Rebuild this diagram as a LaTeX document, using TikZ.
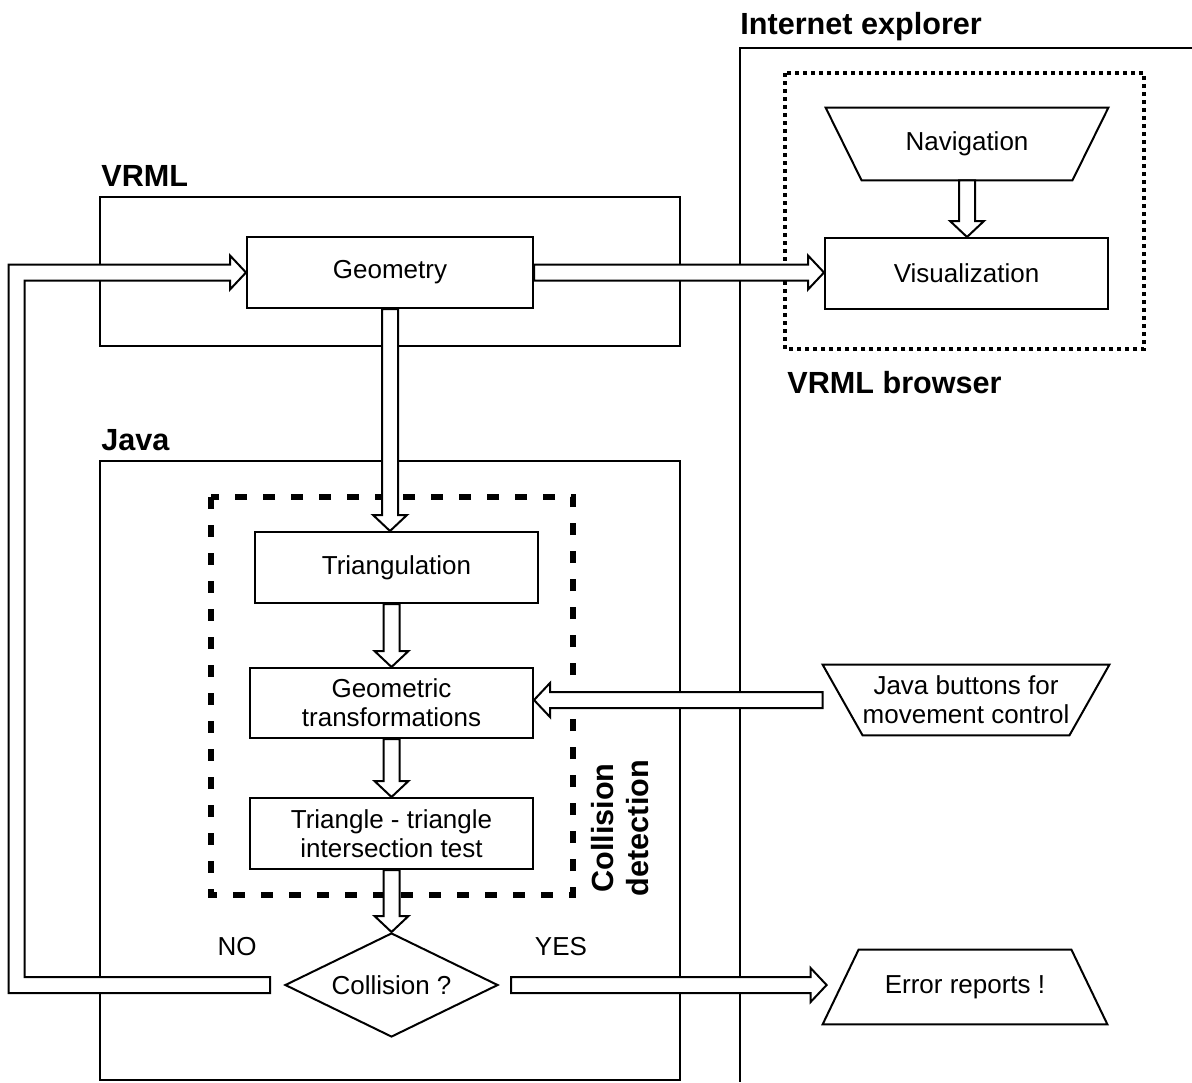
\documentclass[tikz,border=0pt]{standalone}
\usepackage{fontspec}
\setmainfont{Liberation Sans}
\usetikzlibrary{calc,shapes.geometric}

\tikzset{
  box/.style={draw, line width=1pt, inner sep=0pt, minimum width=141.5pt, minimum height=35.5pt},
  plain/.style={inner sep=0pt},
  hollow/.style={draw, fill=white, line width=1pt, line join=miter},
  title/.style={font=\fontsize{15.3}{17.5}\selectfont\bfseries, inner sep=0pt},
  frame/.style={line width=0.6pt},
}

% fat hollow arrow between two points
\newcommand{\fatarrow}[2]{%
  \coordinate (ha) at (#1);
  \coordinate (hb) at (#2);
  \coordinate (hc) at ($(hb)!8pt!(ha)$);
  \draw[hollow] ($(ha)!4pt!90:(hb)$) -- ($(hc)!4pt!90:(hb)$) -- ($(hc)!8.5pt!90:(hb)$)
    -- (hb) -- ($(hc)!8.5pt!-90:(hb)$) -- ($(hc)!4pt!-90:(hb)$) -- ($(ha)!4pt!-90:(hb)$) -- cycle;
}

\begin{document}
\begin{tikzpicture}[x=0.5pt, y=-0.5pt, every node/.style={font=\fontsize{13}{14.5}\selectfont}]
  \useasboundingbox (0,0) rectangle (1192,1082);
  % Internet explorer frame
  \draw[frame] (1192,48) -| (740,1082);
  \node[title, anchor=base west] (ielbl) at (740,34) {Internet explorer};
  % VRML browser (dotted)
  \draw[line width=2pt, dash pattern=on 2pt off 2pt] (785,73) rectangle (1144,349);
  \node[title, anchor=base west] (brlbl) at (787,393) {VRML browser};
  % VRML and Java frames
  \draw[frame] (100,197) rectangle (680,346);
  \node[title, anchor=base west] (vrlbl) at (101,186) {VRML};
  \draw[frame] (100,461) rectangle (680,1080);
  \node[title, anchor=base west] (jvlbl) at (101,450) {Java};
  % Collision detection (dashed)
  \draw[line width=3pt, dash pattern=on 6pt off 8pt] (211,497) rectangle (573,895);
  \node[title, rotate=90, align=center] (cdlbl) at (620,828) {Collision\\detection};

  % Blocks
  \node[box, minimum width=143pt] (geo) at (390,272.5) {Geometry};
  \node[box] (vis) at (966.5,273.5) {Visualization};
  \node[plain, minimum width=141pt, minimum height=36pt] (nav) at (967,144) {Navigation};
  \draw[line width=1pt] (nav.north west) -- (nav.north east)
    -- ([xshift=-18pt]nav.south east) -- ([xshift=18pt]nav.south west) -- cycle;
  \node[box] (tri) at (396.5,567.5) {Triangulation};
  \node[box, minimum height=35pt, align=center] (gtr) at (391.5,703) {Geometric\\transformations};
  \node[box, align=center] (ttt) at (391.5,833.5) {Triangle - triangle\\intersection test};
  \node[draw, diamond, aspect=2, line width=1pt, inner sep=0pt,
        minimum width=106.5pt, minimum height=52pt] (col) at (391.5,985) {Collision ?};
  \node[plain, minimum width=143pt, minimum height=35pt, align=center] (jbt) at (966,700)
    {Java buttons for\\movement control};
  \draw[line width=1pt] (jbt.north west) -- (jbt.north east)
    -- ([xshift=-20pt]jbt.south east) -- ([xshift=20pt]jbt.south west) -- cycle;
  \node[plain, minimum width=142pt, minimum height=37pt] (err) at (965,987) {Error reports !};
  \draw[line width=1pt] (err.south west) -- (err.south east)
    -- ([xshift=-18pt]err.north east) -- ([xshift=18pt]err.north west) -- cycle;
  \node (nolbl) at (237,947) {NO};
  \node (yslbl) at (561,947) {YES};

  % Arrows
  \fatarrow{nav.south}{nav.south |- vis.north}
  \fatarrow{geo.east}{geo.east -| vis.west}
  \fatarrow{geo.south}{geo.south |- tri.north}
  \fatarrow{gtr.north |- tri.south}{gtr.north}
  \fatarrow{gtr.south}{ttt.north}
  \fatarrow{ttt.south}{col.north}
  \fatarrow{jbt.west}{jbt.west -| gtr.east}
  \fatarrow{$(col.east)+(6pt,0)$}{$(col.east -| err.west)+(2pt,0)$}
  % NO loop back to geometry
  \coordinate (lp) at (16.5,0);
  \coordinate (tl) at ($(col.west)+(-7pt,0)$);
  \draw[hollow] let \p1=(tl), \p2=(geo.west), \p3=(lp) in
    (\x1,\y1+4pt) -- (\x3+4pt,\y1+4pt) -- (\x3+4pt,\y2-4pt) -- (\x2-8pt,\y2-4pt)
    -- (\x2-8pt,\y2-8.5pt) -- (\x2,\y2) -- (\x2-8pt,\y2+8.5pt) -- (\x2-8pt,\y2+4pt)
    -- (\x3-4pt,\y2+4pt) -- (\x3-4pt,\y1-4pt) -- (\x1,\y1-4pt) -- cycle;
\end{tikzpicture}
\end{document}
